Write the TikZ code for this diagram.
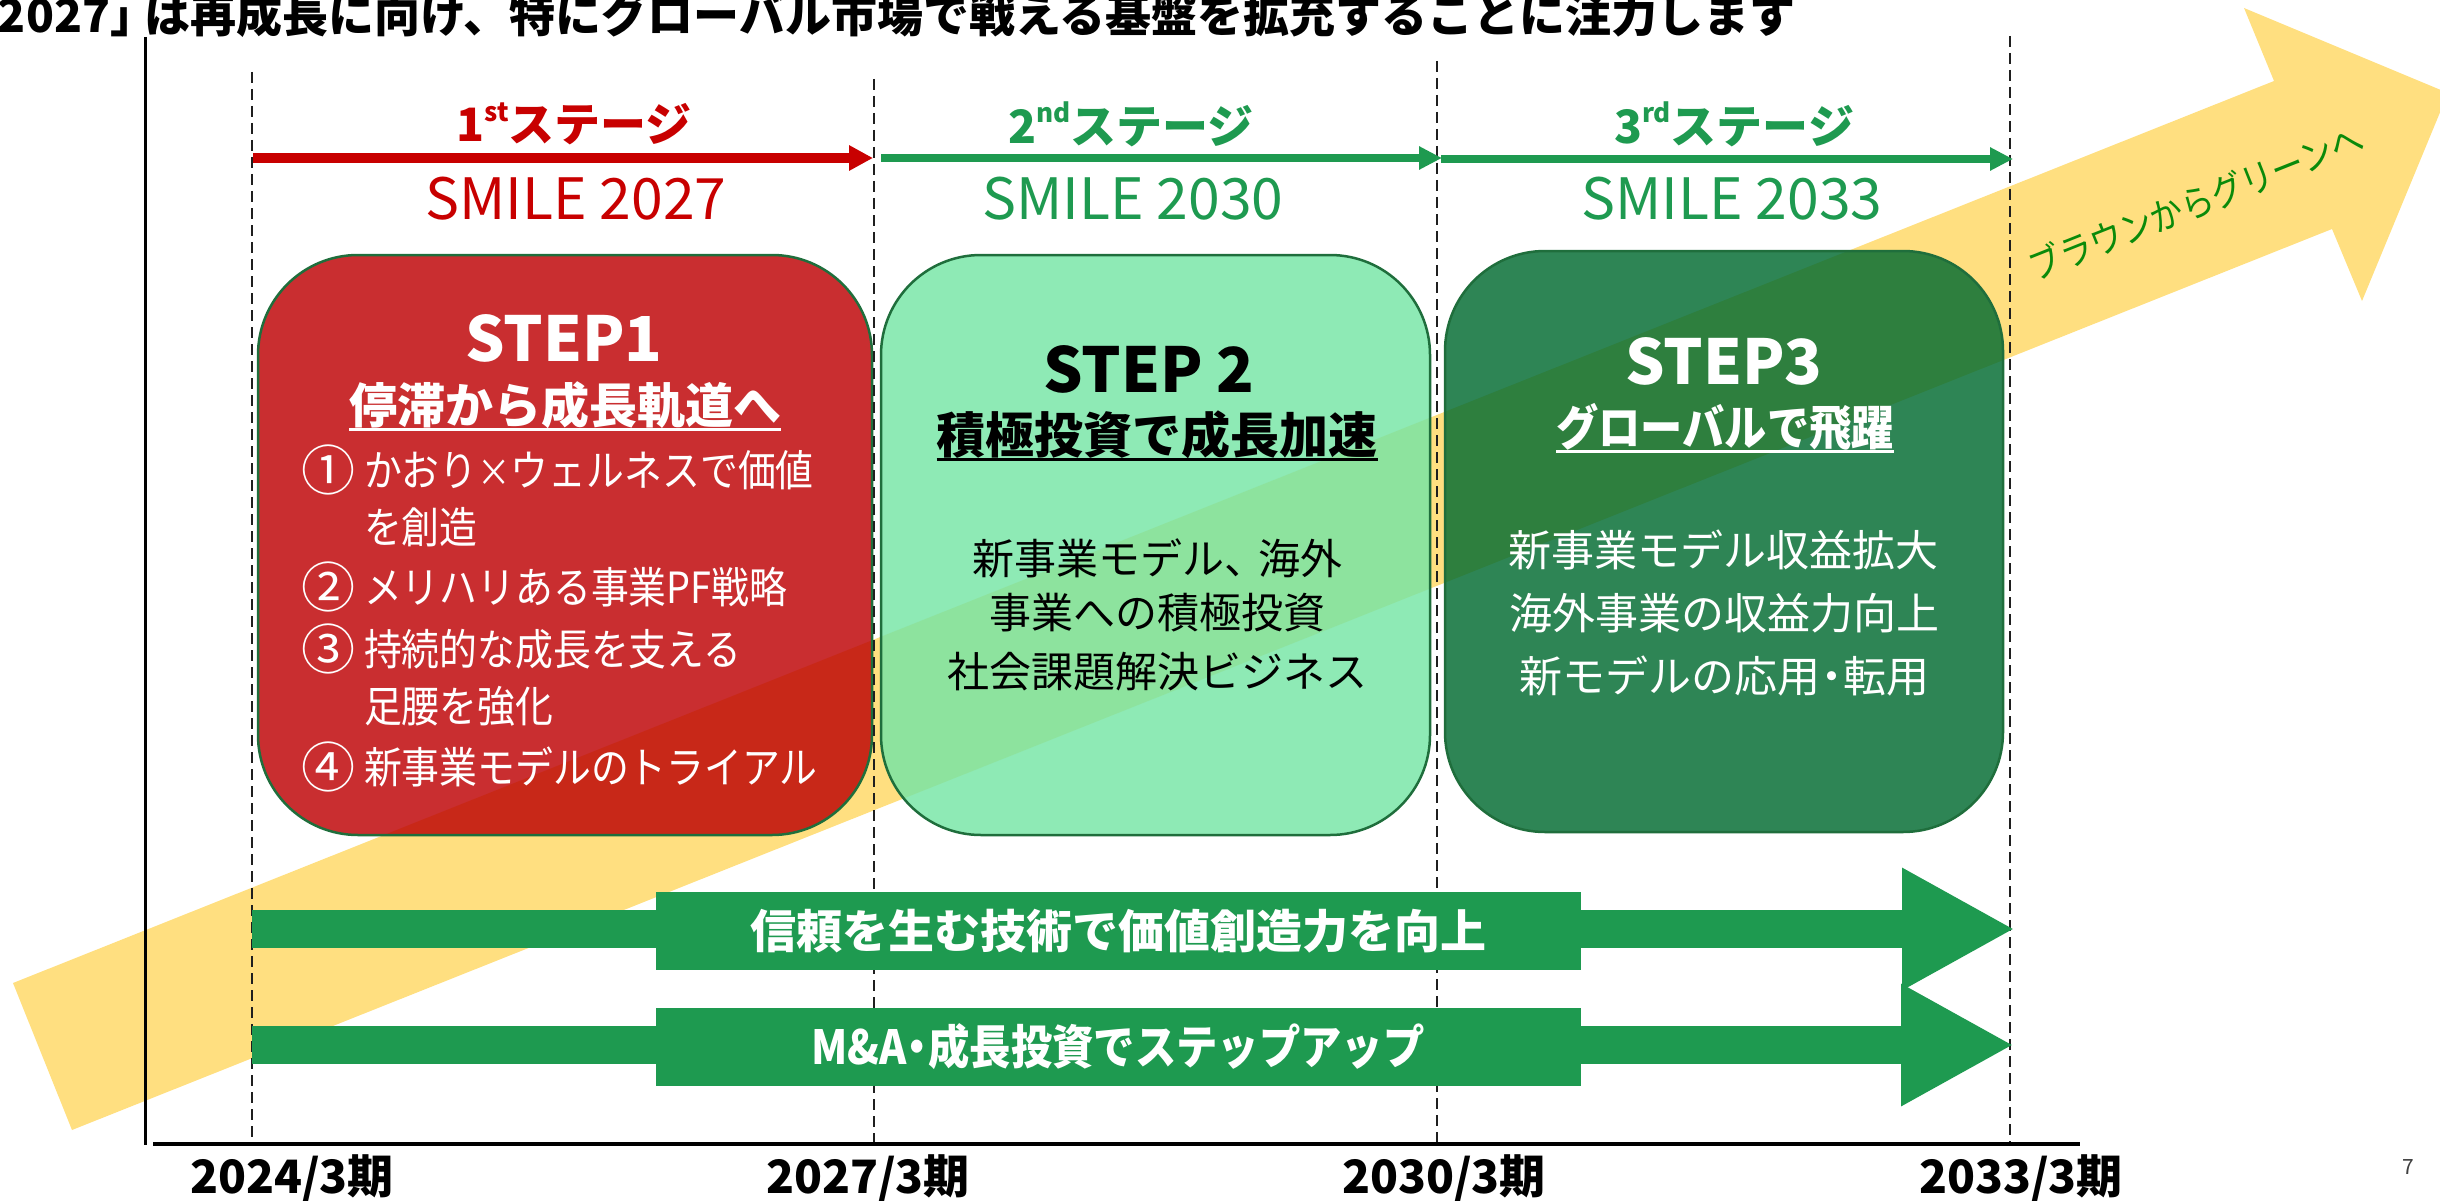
\documentclass[tikz,border=0pt]{standalone}
\usepackage{fontspec}
\setmainfont{Noto Sans CJK JP}
\newfontfamily\nar[FakeStretch=0.88]{Noto Sans CJK JP}
\usetikzlibrary{arrows.meta}
\newcommand\myfs[1]{\fontsize{#1pt}{#1pt}\selectfont}
\definecolor{stgred}{HTML}{C80000}
\definecolor{stggreen}{HTML}{1E9A50}
\definecolor{yel}{HTML}{FFDF80}
\definecolor{boxred}{RGB}{189,0,2}
\definecolor{boxlight}{RGB}{117,229,165}
\definecolor{boxdark}{RGB}{0,106,48}
\definecolor{bord}{HTML}{1F6E3C}
\definecolor{txtgreen}{HTML}{0A8A0A}
\tikzset{
  stepbox/.style={rounded corners=100pt, draw=bord, line width=2.5pt, fill opacity=0.82},
  dashln/.style={draw=black!88, line width=2.5pt, dash pattern=on 11pt off 6pt},
  ul/.style={line width=3pt},
  stagered/.style={stgred, line width=10pt, -{Triangle[length=24pt,width=24pt]}},
  stagegreen/.style={stggreen, line width=8pt, -{Triangle[length=23pt,width=22pt]}},
  bigarrow/.style={stggreen, line width=38pt, -{Triangle[length=113pt,width=114pt]}},
  labelbox/.style={fill=stggreen, text=white, font=\bfseries\myfs{46}, minimum width=925pt, minimum height=78pt},
  axislabel/.style={font=\bfseries\myfs{46}},
  circnum/.style={font=\myfs{54}, text=white},
  listtxt/.style={anchor=west, font=\nar\myfs{43}, text=white},
}
\begin{document}
\begin{tikzpicture}[x=1pt,y=-1pt, every node/.style={inner sep=0pt,outer sep=0pt}]
\useasboundingbox (0,0) rectangle (2440,1201);

% yellow arrow
\fill[yel] (13,983) -- (2274,81) -- (2244,8) -- (2448,93) -- (2362,301) -- (2332,229) -- (72,1130) -- cycle;
\node[rotate=21.7, text=txtgreen, font=\nar\myfs{37}] (b2g) at (2196,202) {ブラウンからグリーンへ};

% step boxes
\node[stepbox, fill=boxred, minimum width=614pt, minimum height=580pt] (s1) at (565,545) {};
\node[stepbox, fill=boxlight, minimum width=549pt, minimum height=580pt] (s2) at (1155.5,545) {};
\node[stepbox, fill=boxdark, minimum width=558pt, minimum height=581pt] (s3) at (1724,541.5) {};

% STEP1 texts
\node[font=\bfseries\myfs{62}, text=white] (s1t) at (564,338) {STEP1};
\node[font=\bfseries\myfs{48}, text=white] (s1h) at (565,405) {停滞から成長軌道へ};
\draw[ul, white] (s1h.west |- 0,429) -- (s1h.east |- 0,429);
\node[circnum] (n1) at (328,470) {①};
\node[listtxt] (l1) at (364,470) {かおり{\myfs{38}×}ウェルネスで価値};
\node[listtxt] (l1b) at (364,527) {を創造};
\node[circnum] (n2) at (328,587) {②};
\node[listtxt] (l2) at (364,587) {メリハリある事業PF戦略};
\node[circnum] (n3) at (328,649) {③};
\node[listtxt] (l3) at (364,649) {持続的な成長を支える};
\node[listtxt] (l3b) at (364,706) {足腰を強化};
\node[circnum] (n4) at (328,767) {④};
\node[listtxt] (l4) at (364,767) {新事業モデルのトライアル};

% STEP2 texts
\node[font=\bfseries\myfs{62}] (s2t) at (1149,369) {STEP 2};
\node[font=\bfseries\myfs{49}] (s2h) at (1157,435) {積極投資で成長加速};
\draw[ul, black] (s2h.west |- 0,459) -- (s2h.east |- 0,459);
\node[font=\myfs{42}] (m1) at (1157,558) {新事業モデル、\kern-8pt 海外};
\node[font=\myfs{42}] (m2) at (1157,613) {事業への積極投資};
\node[font=\myfs{42}] (m3) at (1157,672) {社会課題解決ビジネス};

% STEP3 texts
\node[font=\bfseries\myfs{62}, text=white] (s3t) at (1724,361) {STEP3};
\node[font=\nar\bfseries\myfs{48}, text=white] (s3h) at (1725,427) {グローバルで飛躍};
\draw[ul, white] (s3h.west |- 0,451) -- (s3h.east |- 0,451);
\node[font=\myfs{43}, text=white] (k1) at (1723,550) {新事業モデル収益拡大};
\node[font=\myfs{43}, text=white] (k2) at (1724,613) {海外事業の収益力向上};
\node[font=\myfs{43}, text=white] (k3) at (1724,676) {新モデルの応用\kern-10pt・\kern-10pt 転用};

% dashed period lines and axes
\coordinate (d1t) at (252,72);   \coordinate (d1b) at (252,1144);
\coordinate (d2t) at (874,79);   \coordinate (d2b) at (874,1144);
\coordinate (d3t) at (1437,61);  \coordinate (d3b) at (1437,1144);
\coordinate (d4t) at (2010,36);  \coordinate (d4b) at (2010,1144);
\draw[dashln] (d1t) -- (d1b);
\draw[dashln] (d2t) -- (d2b);
\draw[dashln] (d3t) -- (d3b);
\draw[dashln] (d4t) -- (d4b);
\coordinate (yt) at (145,37); \coordinate (yb) at (145,1145);
\draw[line width=3pt] (yt) -- (yb);
\coordinate (xl) at (153,1144); \coordinate (xr) at (2080,1144);
\draw[line width=4.5pt] (xl) -- (xr);

% stage arrows and labels
\coordinate (r0) at (253,158); \coordinate (r1) at (873,158);
\coordinate (g0) at (881,158); \coordinate (g1) at (1442,158);
\coordinate (g2) at (1441,159); \coordinate (g3) at (2013,159);
\draw[stagered] (r0) -- (r1);
\draw[stagegreen] (g0) -- (g1);
\draw[stagegreen] (g2) -- (g3);
\node[font=\bfseries\myfs{46}, text=stgred] (st1) at (574,124) {1\raisebox{0.45em}{\myfs{26}st}ステージ};
\node[font=\bfseries\myfs{46}, text=stggreen] (st2) at (1131,124) {2\raisebox{0.45em}{\myfs{26}nd}ステージ};
\node[font=\bfseries\myfs{46}, text=stggreen] (st3) at (1734,124) {3\raisebox{0.45em}{\myfs{26}rd}ステージ};
\node[font=\myfs{57}, text=stgred] (sm1) at (576,199) {SMILE 2027};
\node[font=\myfs{57}, text=stggreen] (sm2) at (1133,199) {SMILE 2030};
\node[font=\myfs{57}, text=stggreen] (sm3) at (1732,199) {SMILE 2033};

% bottom big arrows
\coordinate (a1s) at (252,929); \coordinate (a1e) at (2015,929);
\coordinate (a2s) at (252,1045); \coordinate (a2e) at (2014,1045);
\draw[bigarrow] (a1s) -- (a1e);
\draw[bigarrow] (a2s) -- (a2e);
\node[labelbox] (lab1) at (1118.5,931) {信頼を生む技術で価値創造力を向上};
\node[labelbox, font=\nar\bfseries\myfs{47}] (lab2) at (1118,1047) {M\&A\kern-10pt・\kern-10pt 成長投資でステップアップ};

% axis labels
\node[axislabel] (t1) at (292,1178) {2024/3期};
\node[axislabel] (t2) at (868,1178) {2027/3期};
\node[axislabel] (t3) at (1444,1178) {2030/3期};
\node[axislabel] (t4) at (2021,1178) {2033/3期};
\node[font=\myfs{21}, text=black!75] (pg) at (2408,1167) {7};

% title (cut off at top)
\node[anchor=base west, font=\bfseries\myfs{46}] (ttl) at (-2,33) {2027」\kern-12pt は再成長に向け、特にグローバル市場で戦える基盤を拡充することに注力します};
\end{tikzpicture}
\end{document}
